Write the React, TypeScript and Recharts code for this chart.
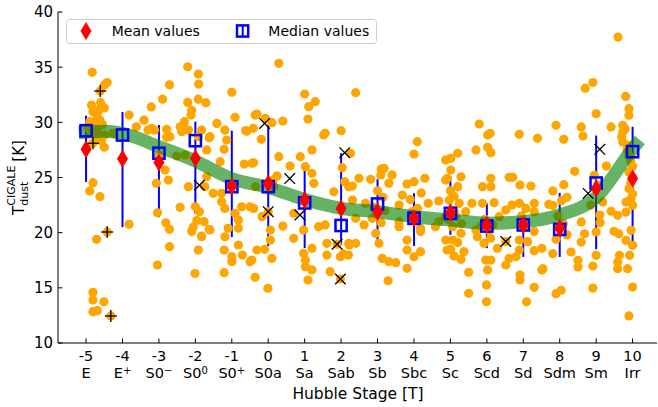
import React from "react";
import { ComposedChart, Scatter, XAxis, YAxis, ErrorBar, Legend } from "recharts";

// dust temperature vs Hubble stage
const FONT = "DejaVu Sans, sans-serif";

const stages = [-5, -4, -3, -2, -1, 0, 1, 2, 3, 4, 5, 6, 7, 8, 9, 10];
const stageNames: [string, string][] = [
  ["E", ""], ["E", "+"], ["S0", "\u2212"], ["S0", "0"], ["S0", "+"], ["S0a", ""],
  ["Sa", ""], ["Sab", ""], ["Sb", ""], ["Sbc", ""], ["Sc", ""], ["Scd", ""],
  ["Sd", ""], ["Sdm", ""], ["Sm", ""], ["Irr", ""],
];
const yTicks = [10, 15, 20, 25, 30, 35, 40];

const medians = [29.24, 28.85, 27.2, 28.34, 24.17, 24.17, 22.7, 20.65, 22.6, 21.3, 21.75, 20.6, 20.7, 20.3, 24.5, 27.34];
const means = [27.55, 26.7, 26.35, 26.74, 24.2, 24.45, 22.95, 22.2, 21.9, 21.3, 21.8, 20.7, 20.7, 20.4, 24.0, 24.9];
const barLow = [24.6, 20.5, 21.4, 21.75, 19.6, 18.8, 18.6, 18.9, 19.2, 18.8, 19.8, 18.6, 17.8, 17.8, 18.5, 19.0];
const barHigh = [30.6, 30.93, 29.76, 30.06, 29.24, 29.75, 26.3, 27.2, 24.84, 23.57, 24.8, 22.65, 22.7, 23.6, 28.8, 29.6];

const trendX = [-5.2, -5, -4.5, -4, -3, -2, -1, 0, 1, 2, 3, 4, 5, 6, 7, 8, 9, 10, 10.2];
const trendY = [29.05, 29.1, 29.2, 29.0, 27.8, 26.5, 24.9, 24.1, 23.0, 22.2, 21.9, 21.45, 21.15, 20.85, 21.0, 21.6, 23.2, 27.6, 28.4];

const crosses: [number, number][] = [
  [-1.89, 24.3], [-0.1, 29.9], [0.0, 21.9], [0.59, 24.9], [0.87, 21.6],
  [2.1, 27.25], [1.89, 18.95], [1.98, 15.8], [6.52, 19.2], [8.78, 23.56], [9.1, 27.55],
];
const pluses: [number, number][] = [[-4.61, 32.84], [-4.81, 28.1], [-4.42, 20.06], [-4.32, 12.45]];

const galaxies: [number, number][] = [
  [-4.83, 34.53], [-4.42, 33.6], [-4.49, 33.4], [-4.61, 32.84], [-4.85, 31.57], [-4.6, 31.78], [-4.5, 31.3],
  [-4.81, 30.96], [-4.69, 30.5], [-4.9, 30.06], [-4.76, 30.06], [-4.62, 30.2], [-4.76, 29.6], [-4.87, 29.0],
  [-4.67, 28.85], [-4.49, 28.85], [-4.81, 28.1], [-4.5, 27.74], [-4.81, 24.53], [-4.9, 23.78], [-4.62, 23.26],
  [-4.42, 20.06], [-4.71, 19.4], [-4.81, 14.6], [-4.81, 13.9], [-4.51, 13.74], [-4.81, 12.84], [-4.69, 12.93],
  [-4.32, 12.45], [-4.95, 29.5], [-4.7, 29.3], [-4.55, 29.8], [-4.65, 31.1], [-4.72, 28.5], [-4.58, 28.3],
  [-3.82, 30.66], [-3.82, 20.76], [-3.62, 29.6], [-3.41, 30.2], [-3.21, 31.4], [-3.3, 29.3], [-3.12, 29.3],
  [-4.26, 29.0], [-3.07, 24.47], [-3.04, 21.8], [-3.04, 17.07], [-2.9, 32.1], [-2.71, 33.4], [-3.2, 29.46],
  [-2.79, 28.64], [-2.42, 22.3], [-2.81, 20.9], [-2.71, 20.3], [-2.71, 18.73], [-2.01, 16.3], [-1.92, 18.43],
  [-1.83, 19.7], [-1.62, 20.3], [-2.06, 20.5], [-1.96, 21.1], [-1.89, 21.9], [-2.0, 22.35], [-1.76, 21.0],
  [-2.21, 35.04], [-1.92, 34.38], [-1.91, 33.47], [-1.92, 32.1], [-2.21, 31.8], [-2.33, 29.6], [-2.1, 31.1],
  [-1.6, 28.7], [-1.69, 27.5], [-2.28, 27.04], [-1.71, 31.78], [-2.12, 30.66], [-1.0, 32.72], [-0.91, 30.46],
  [-0.36, 30.66], [-2.3, 30.06], [-2.42, 29.6], [-2.79, 29.37], [-2.7, 28.7], [-2.37, 29.15], [-2.19, 29.3],
  [-1.83, 29.3], [-1.92, 28.7], [-1.62, 28.6], [-1.41, 29.9], [-1.19, 29.3], [-1.14, 28.4], [-1.21, 27.56],
  [-0.62, 29.25], [-0.41, 29.46], [-3.0, 27.04], [-2.51, 26.95], [-2.83, 25.68], [-2.74, 24.77], [-1.69, 25.07],
  [-1.32, 26.43], [-0.66, 26.22], [-0.45, 26.29], [-2.19, 24.17], [-1.74, 24.17], [-1.51, 23.57], [-1.28, 23.57],
  [-1.28, 22.8], [-1.19, 22.2], [-0.73, 22.35], [-0.5, 22.35], [-0.91, 21.75], [-0.82, 21.15], [-0.82, 20.4],
  [-1.1, 20.4], [-2.1, 20.1], [-1.83, 19.63], [-1.6, 20.24], [-1.19, 19.63], [-1.21, 18.43], [-1.0, 17.82],
  [-0.71, 17.97], [-0.5, 17.37], [-1.0, 17.37], [-1.21, 16.37], [-0.36, 15.95],
  [0.29, 35.35], [1.0, 32.57], [1.29, 31.87], [1.11, 31.42], [1.09, 30.3], [-0.31, 30.75], [-0.08, 30.36],
  [0.1, 29.97], [0.4, 30.12], [-0.19, 28.46], [1.52, 28.85], [2.0, 29.24], [1.2, 27.5], [-0.4, 26.34],
  [0.29, 26.89], [0.6, 26.04], [0.88, 26.89], [1.02, 25.98], [1.2, 25.38], [1.25, 24.47], [0.24, 25.14],
  [0.15, 24.17], [-0.35, 24.17], [2.1, 24.62], [2.03, 25.89], [1.8, 23.71], [2.21, 24.17], [-0.4, 22.2],
  [-0.17, 21.45], [0.4, 20.6], [0.7, 21.75], [0.7, 19.49], [1.38, 20.54], [1.56, 20.7], [0.06, 20.24],
  [0.06, 19.33], [-0.31, 18.43], [-0.1, 18.49], [0.1, 17.67], [0.97, 20.24], [0.97, 18.13], [1.02, 17.52],
  [1.02, 16.91], [1.2, 18.58], [1.2, 16.62], [1.09, 15.71], [1.61, 19.03], [1.61, 17.97], [1.7, 16.46],
  [2.21, 19.03], [1.98, 17.82], [-0.01, 14.96], [-0.45, 17.52], [1.56, 29.0], [-0.59, 29.2], [0.14, 24.77],
  [-0.82, 18.88], [2.06, 18.07], [2.2, 17.97], [3.1, 25.77], [0.0, 21.9], [1.98, 15.8], [1.89, 18.95],
  [2.4, 32.69], [4.09, 28.25], [4.0, 27.13], [2.26, 27.2], [3.18, 25.83], [3.4, 25.23], [3.09, 25.23],
  [2.49, 24.93], [2.81, 24.84], [2.31, 24.23], [3.31, 24.47], [3.81, 24.41], [4.0, 24.62], [4.3, 24.93],
  [4.87, 26.59], [4.87, 24.77], [3.68, 23.41], [3.59, 22.5], [4.39, 22.66], [4.68, 22.87], [2.31, 22.96],
  [2.67, 22.66], [2.4, 21.3], [2.63, 20.7], [2.22, 18.88], [2.4, 19.03], [2.95, 19.94], [3.04, 19.03],
  [3.13, 17.67], [3.31, 17.37], [3.5, 17.28], [3.29, 15.64], [3.59, 21.0], [3.59, 20.54], [3.81, 19.33],
  [3.81, 18.43], [4.0, 17.82], [3.81, 16.77], [4.18, 20.4], [4.18, 20.1], [4.18, 18.28], [4.59, 20.54],
  [4.68, 21.0], [4.87, 21.45], [4.87, 19.33], [4.91, 18.43], [3.0, 23.8], [3.15, 23.2], [2.9, 22.3],
  [3.2, 22.0], [3.9, 23.0], [4.1, 22.2], [4.2, 23.6], [3.95, 21.9], [2.85, 21.3], [3.1, 20.9],
  [5.79, 29.85], [6.02, 28.85], [6.09, 29.0], [6.89, 28.91], [7.39, 28.55], [5.7, 27.5], [6.02, 27.74],
  [6.11, 27.25], [5.2, 27.2], [5.01, 26.74], [5.01, 25.68], [4.92, 24.93], [5.29, 25.07], [5.2, 24.17],
  [5.88, 24.17], [6.11, 24.93], [6.11, 24.17], [6.61, 25.02], [6.71, 25.02], [6.91, 24.32], [7.21, 24.23],
  [4.97, 22.96], [5.24, 22.66], [5.59, 22.66], [5.88, 22.66], [6.2, 22.72], [5.42, 21.9], [6.52, 22.05],
  [6.69, 22.5], [6.89, 22.66], [7.3, 22.66], [7.07, 22.2], [7.3, 21.9], [5.06, 20.54], [5.29, 19.94],
  [5.7, 20.24], [6.16, 20.7], [6.34, 21.45], [7.3, 20.1], [5.06, 19.33], [5.2, 19.1], [5.01, 18.49],
  [5.37, 18.28], [5.1, 17.88], [5.29, 17.58], [5.74, 19.63], [5.92, 19.03], [5.97, 17.52], [6.11, 17.52],
  [6.02, 16.62], [6.29, 18.58], [6.61, 17.67], [6.52, 17.07], [6.8, 17.82], [6.89, 19.33], [6.89, 18.43],
  [7.12, 19.18], [7.3, 18.37], [7.51, 18.58], [6.91, 16.16], [6.91, 15.71], [7.51, 16.62], [5.5, 16.41],
  [5.5, 14.5], [5.99, 15.26], [5.99, 13.74], [7.09, 13.74], [7.3, 15.05], [5.1, 22.0], [4.95, 21.2],
  [5.15, 21.5], [5.3, 20.8], [5.95, 21.2], [6.05, 20.2], [5.85, 20.6], [6.1, 19.5], [7.0, 20.5],
  [6.95, 21.5], [5.0, 23.8], [5.1, 23.3], [6.52, 19.2],
  [9.6, 37.73], [8.7, 33.1], [8.91, 33.6], [9.81, 32.35], [9.9, 31.24], [9.0, 30.78], [9.9, 30.64],
  [7.9, 29.73], [8.59, 29.58], [8.64, 28.76], [8.11, 28.46], [9.41, 29.58], [9.73, 29.73], [9.73, 29.13],
  [9.73, 28.22], [9.86, 27.92], [8.41, 25.56], [9.28, 26.04], [8.11, 24.35], [7.81, 23.78], [7.7, 22.57],
  [9.18, 22.78], [9.41, 21.94], [9.59, 21.57], [9.82, 22.78], [9.82, 21.87], [10.0, 22.48], [8.59, 20.97],
  [8.68, 19.9], [8.59, 19.15], [9.0, 20.06], [9.11, 20.9], [9.49, 20.12], [9.62, 19.9], [9.82, 19.3],
  [9.96, 20.21], [10.0, 18.85], [7.81, 18.1], [8.31, 18.25], [8.5, 17.5], [8.5, 16.89], [8.91, 16.98],
  [9.0, 17.95], [9.59, 17.34], [9.59, 16.74], [9.86, 16.74], [9.64, 17.95], [9.92, 17.95], [8.91, 14.98],
  [7.9, 14.47], [8.04, 14.78], [10.0, 15.07], [9.9, 12.45], [7.54, 16.74], [7.81, 22.48], [9.85, 27.5],
  [9.9, 27.0], [9.95, 26.5], [10.0, 26.0], [9.9, 25.5], [10.0, 25.0], [9.95, 24.5], [9.9, 24.0],
  [10.0, 23.5], [9.95, 23.0], [9.7, 28.7], [9.8, 29.4], [8.95, 25.2], [9.05, 24.3], [8.85, 22.5],
  [9.1, 21.6], [7.95, 21.5], [8.1, 20.8], [8.2, 19.8], [7.9, 19.4], [8.05, 22.9], [8.2, 23.2],
];

const galaxyData = galaxies.map(([x, y]) => ({ x, y }));
const trendData = trendX.map((x, i) => ({ x, y: trendY[i] }));
const crossData = crosses.map(([x, y]) => ({ x, y }));
const plusData = pluses.map(([x, y]) => ({ x, y }));
const medianData = stages.map((t, i) => ({ x: t, y: medians[i], err: [medians[i] - barLow[i], barHigh[i] - medians[i]] }));
const meanData = stages.map((t, i) => ({ x: t, y: means[i] }));

const Dot = (p: any) => <circle cx={p.cx} cy={p.cy} r={4.6} fill="#FFA500" />;
const Empty = () => <g />;
const Diamond = (p: any) => (
  <polygon points={`${p.cx},${p.cy - 9} ${p.cx + 5.5},${p.cy} ${p.cx},${p.cy + 9} ${p.cx - 5.5},${p.cy}`} fill="#FF0000" />
);
const Square = (p: any) => (
  <rect x={p.cx - 5.6} y={p.cy - 5.6} width={11.2} height={11.2} fill="none" stroke="#0000FF" strokeWidth={2.5} />
);
const Cross = (p: any) => (
  <g stroke="#000" strokeWidth={1.3}>
    <line x1={p.cx - 5.3} y1={p.cy - 5.3} x2={p.cx + 5.3} y2={p.cy + 5.3} />
    <line x1={p.cx - 5.3} y1={p.cy + 5.3} x2={p.cx + 5.3} y2={p.cy - 5.3} />
  </g>
);
const Plus = (p: any) => (
  <g stroke="#000" strokeWidth={1.3}>
    <line x1={p.cx - 6} y1={p.cy} x2={p.cx + 6} y2={p.cy} />
    <line x1={p.cx} y1={p.cy - 6} x2={p.cx} y2={p.cy + 6} />
  </g>
);

// two-line tick: stage number, then morphological type
const BottomTick = (props: any) => {
  const { x, y, payload } = props;
  const i = stages.indexOf(payload.value);
  const [base, sup] = stageNames[i] || ["", ""];
  return (
    <g fontFamily={FONT} fill="#000">
      <line x1={x} x2={x} y1={y} y2={y - 4.5} stroke="#000" />
      <text x={x} y={y + 18} textAnchor="middle" fontSize={14.5}>{String(payload.value)}</text>
      <text x={x} y={y + 35.3} textAnchor="middle" fontSize={14.5}>
        {base}
        {sup ? <tspan dy={-4.6} fontSize={10}>{sup}</tspan> : null}
      </text>
    </g>
  );
};
const TopTick = (props: any) => (
  <line x1={props.x} x2={props.x} y1={props.y} y2={props.y + 4.5} stroke="#000" />
);
const LeftTick = (props: any) => {
  const { x, y, payload } = props;
  return (
    <g>
      <line x1={x} x2={x + 4.5} y1={y} y2={y} stroke="#000" />
      <text x={x - 5} y={y} dy="0.36em" textAnchor="end" fontSize={15} fontFamily={FONT} fill="#000">
        {payload.value}
      </text>
    </g>
  );
};
const RightTick = (props: any) => (
  <line x1={props.x} x2={props.x - 4.5} y1={props.y} y2={props.y} stroke="#000" />
);

const XLabel = () => (
  <text x={358} y={399} textAnchor="middle" fontSize={15.5} fontFamily={FONT} fill="#000">Hubble Stage [T]</text>
);
const YLabel = () => (
  <text transform="translate(23.5,177.5) rotate(-90)" textAnchor="middle" fontSize={15} fontFamily={FONT} fill="#000">
    T
    <tspan dy={-8.5} fontSize={11}>CIGALE</tspan>
    <tspan dx={-3.641 * 11} dy={13} fontSize={11}>dust</tspan>
    <tspan dx={(3.641 - 2.182) * 11 + 4} dy={-4.5}>[K]</tspan>
  </text>
);

const LegendBox = () => (
  <svg width={311} height={25} style={{ display: "block" }}>
    <rect x={0.5} y={0.5} width={310} height={24} rx={3} fill="#fff" fillOpacity={0.8} stroke="#ccc" />
    <polygon points="20,3 25.5,12 20,21 14.5,12" fill="#FF0000" />
    <text x={45.7} y={17} fontSize={14} fontFamily={FONT} fill="#000">Mean values</text>
    <rect x={171} y={6.4} width={11.2} height={11.2} fill="none" stroke="#0000FF" strokeWidth={2.5} />
    <line x1={176.7} x2={176.7} y1={6} y2={18} stroke="#0000FF" strokeWidth={2} />
    <text x={202.3} y={17} fontSize={14} fontFamily={FONT} fill="#000">Median values</text>
  </svg>
);

export default function App() {
  return (
    <div style={{ position: "absolute", left: 0, top: 0, width: 658, height: 407, background: "#fff" }}>
      <ComposedChart width={658} height={407} margin={{ top: 12, right: 1, bottom: 0, left: 0 }}>
        <XAxis
          xAxisId="b" dataKey="x" type="number" domain={[-5.77, 10.67]} allowDataOverflow
          ticks={stages} interval={0} tickSize={0} tickMargin={0} tickLine={false}
          axisLine={{ stroke: "#000" }} height={64} tick={BottomTick} label={<XLabel />}
        />
        <XAxis
          xAxisId="t" orientation="top" dataKey="x" type="number" domain={[-5.77, 10.67]} allowDataOverflow
          ticks={stages} interval={0} tickSize={0} tickMargin={0} tickLine={false}
          axisLine={{ stroke: "#000" }} height={0} tick={TopTick}
        />
        <YAxis
          yAxisId="l" dataKey="y" type="number" domain={[10, 40]} allowDataOverflow
          ticks={yTicks} interval={0} tickSize={0} tickMargin={0} tickLine={false}
          axisLine={{ stroke: "#000" }} width={58} tick={LeftTick} label={<YLabel />}
        />
        <YAxis
          yAxisId="r" orientation="right" dataKey="y" type="number" domain={[10, 40]} allowDataOverflow
          ticks={yTicks} interval={0} tickSize={0} tickMargin={0} tickLine={false}
          axisLine={{ stroke: "#000" }} width={0} tick={RightTick}
        />
        <Legend
          layout="vertical" align="center" verticalAlign="middle"
          wrapperStyle={{ left: 66, top: 19, width: 311, height: 25 }}
          content={<LegendBox />}
        />
        <Scatter xAxisId="b" yAxisId="l" data={galaxyData} shape={Dot} isAnimationActive={false} legendType="none" />
        <Scatter
          xAxisId="b" yAxisId="l" data={trendData} shape={Empty} isAnimationActive={false} legendType="none"
          line={{ stroke: "#008000", strokeWidth: 13, strokeOpacity: 0.6 }} lineType="joint" lineJointType="monotoneX"
        />
        <Scatter xAxisId="b" yAxisId="l" data={plusData} shape={Plus} isAnimationActive={false} legendType="none" />
        <Scatter xAxisId="b" yAxisId="l" data={crossData} shape={Cross} isAnimationActive={false} legendType="none" />
        <Scatter xAxisId="b" yAxisId="l" data={medianData} shape={Square} isAnimationActive={false} legendType="none">
          <ErrorBar dataKey="err" direction="y" width={0} stroke="#0000FF" strokeWidth={2} isAnimationActive={false} />
        </Scatter>
        <Scatter xAxisId="b" yAxisId="l" data={meanData} shape={Diamond} isAnimationActive={false} legendType="none" />
      </ComposedChart>
    </div>
  );
}
